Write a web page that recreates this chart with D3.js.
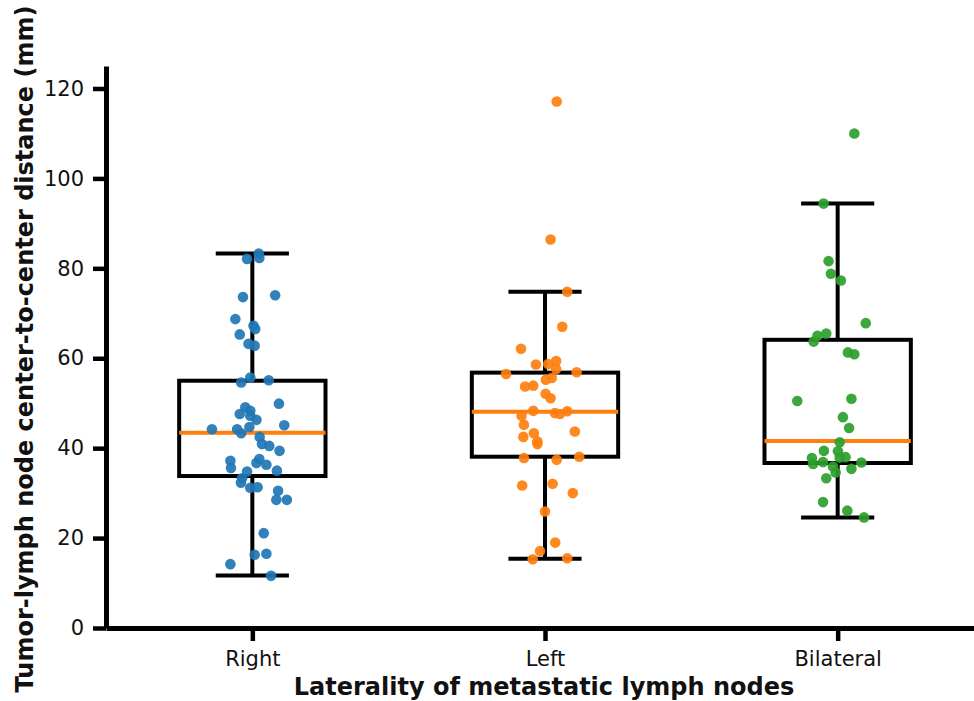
<!DOCTYPE html>
<html>
<head>
<meta charset="utf-8">
<script src="https://cdn.jsdelivr.net/npm/d3@7"></script>
<style>
  body { margin: 0; background: #fff; }
  text { font-family: "DejaVu Sans", sans-serif; }
</style>
</head>
<body>
<div id="chart"></div>
<script>
// categories and colours
var categories = ["Right", "Left", "Bilateral"];
var colors = ["#1f77b4", "#ff7f0e", "#2ca02c"];

var boxRight = [11.7, 33.8, 43.4, 55.0, 83.3];
var boxLeft = [15.4, 38.1, 48.1, 56.8, 74.8];
var boxBilateral = [24.6, 36.7, 41.6, 64.1, 94.4];

// points : [value (mm), jitter (in category units)]
var ptsRight = [
  [83.3, 0.022], [82.1, -0.018], [82.3, 0.024], [73.6, -0.032], [74.0, 0.078],
  [68.7, -0.058], [67.2, 0.004], [66.5, 0.010], [65.3, -0.043], [63.2, -0.013],
  [62.8, 0.008], [55.7, -0.007], [54.6, -0.038], [55.1, 0.056], [49.9, 0.091],
  [49.1, -0.024], [48.3, -0.007], [47.6, -0.043], [47.2, -0.007], [46.3, 0.014],
  [45.1, 0.109], [44.2, -0.138], [44.2, -0.052], [44.7, -0.010], [43.3, -0.038],
  [42.5, 0.025], [40.9, 0.033], [40.5, 0.058], [39.4, 0.093], [37.2, -0.075],
  [35.6, -0.073], [37.6, 0.024], [36.7, 0.014], [36.3, 0.048], [35.0, 0.084],
  [34.8, -0.018], [33.3, -0.035], [32.3, -0.039], [31.2, -0.007], [31.3, 0.018],
  [30.5, 0.088], [28.5, 0.082], [28.5, 0.118], [21.1, 0.039], [16.5, 0.048],
  [16.3, 0.008], [14.2, -0.075], [11.6, 0.064]
];
var ptsLeft = [
  [117.1, 0.040], [86.4, 0.019], [74.8, 0.076], [67.0, 0.059], [62.1, -0.082],
  [58.6, -0.031], [58.7, 0.011], [59.4, 0.038], [57.6, 0.038], [56.5, -0.133],
  [56.9, 0.108], [55.2, 0.003], [55.6, 0.023], [53.7, -0.068], [53.9, -0.040],
  [52.1, 0.002], [51.1, 0.019], [48.3, -0.040], [47.2, -0.080], [47.8, 0.034],
  [47.6, 0.051], [48.2, 0.076], [45.2, -0.072], [43.3, -0.038], [43.7, 0.102],
  [42.5, -0.074], [41.5, -0.026], [40.9, -0.026], [37.8, -0.072], [37.4, 0.040],
  [38.1, 0.117], [31.7, -0.078], [32.1, 0.026], [30.0, 0.095], [25.9, 0.000],
  [19.0, 0.035], [17.1, -0.017], [15.3, -0.042], [15.5, 0.076]
];
var ptsBilateral = [
  [110.0, 0.057], [94.4, -0.048], [81.6, -0.031], [78.8, -0.023], [77.3, 0.011],
  [67.8, 0.096], [65.0, -0.069], [65.5, -0.039], [63.7, -0.082], [61.3, 0.035],
  [60.9, 0.057], [50.5, -0.138], [51.0, 0.047], [46.9, 0.018], [44.5, 0.039],
  [41.3, 0.007], [39.4, -0.047], [39.3, 0.001], [37.8, -0.088], [37.9, 0.007],
  [38.0, 0.027], [36.5, -0.084], [36.9, -0.050], [36.8, 0.081], [35.9, -0.016],
  [35.4, 0.047], [34.6, -0.007], [33.3, -0.039], [28.0, -0.050], [26.1, 0.033],
  [24.6, 0.090]
];
var yTicks = [0, 20, 40, 60, 80, 100, 120];

var boxes = [boxRight, boxLeft, boxBilateral];
var points = [ptsRight, ptsLeft, ptsBilateral];

var width = 974, height = 701;
var margin = {left: 106, top: 66, bottom: 73};

var svg = d3.select("#chart").append("svg")
    .attr("width", width)
    .attr("height", height);

var x = d3.scaleLinear().domain([-0.5, 2.5]).range([margin.left, margin.left + 878]);
var y = d3.scaleLinear().domain([0, 125]).range([height - margin.bottom, margin.top]);

var lw = 4;

// axes
var gy = svg.append("g")
    .attr("transform", "translate(" + margin.left + ",0)")
    .call(d3.axisLeft(y).tickValues(yTicks).tickSize(13).tickSizeOuter(0).tickPadding(9));
var gx = svg.append("g")
    .attr("transform", "translate(0," + y(0) + ")")
    .call(d3.axisBottom(x).tickValues([0, 1, 2])
          .tickFormat(function(d) { return categories[d]; })
          .tickSize(13).tickSizeOuter(0).tickPadding(10));

[gy, gx].forEach(function(g) {
    g.select(".domain").attr("stroke", "#000").attr("stroke-width", 5);
    g.selectAll(".tick line").attr("stroke", "#000").attr("stroke-width", 4.5);
    g.selectAll(".tick text")
	.attr("font-family", "DejaVu Sans")
	.attr("font-size", 21)
	.attr("fill", "#111");
});

// boxes
var bw = 0.25, cw = 0.125;
var bg = svg.append("g");
boxes.forEach(function(b, i) {
    var g = bg.append("g");
    g.append("line")
	.attr("x1", x(i)).attr("x2", x(i))
	.attr("y1", y(b[0])).attr("y2", y(b[1]))
	.attr("stroke", "#000").attr("stroke-width", lw);
    g.append("line")
	.attr("x1", x(i)).attr("x2", x(i))
	.attr("y1", y(b[3])).attr("y2", y(b[4]))
	.attr("stroke", "#000").attr("stroke-width", lw);
    [b[0], b[4]].forEach(function(v) {
	g.append("line")
	    .attr("x1", x(i - cw)).attr("x2", x(i + cw))
	    .attr("y1", y(v)).attr("y2", y(v))
	    .attr("stroke", "#000").attr("stroke-width", lw);
    });
    g.append("rect")
	.attr("x", x(i - bw)).attr("width", x(i + bw) - x(i - bw))
	.attr("y", y(b[3])).attr("height", y(b[1]) - y(b[3]))
	.attr("fill", "none").attr("stroke", "#000").attr("stroke-width", lw);
    g.append("line")
	.attr("x1", x(i - bw)).attr("x2", x(i + bw))
	.attr("y1", y(b[2])).attr("y2", y(b[2]))
	.attr("stroke", "#ff7f0e").attr("stroke-width", lw);
});

// jittered points
points.forEach(function(pts, i) {
    svg.append("g").selectAll("circle")
	.data(pts)
	.enter().append("circle")
	.attr("cx", function(d) { return x(i + d[1]); })
	.attr("cy", function(d) { return y(d[0]); })
	.attr("r", 5.3)
	.attr("fill", colors[i])
	.attr("fill-opacity", 0.92);
});

// labels
svg.append("text")
    .attr("x", 544).attr("y", 695)
    .attr("text-anchor", "middle")
    .attr("font-weight", "bold")
    .attr("font-size", 24)
    .attr("fill", "#111")
    .text("Laterality of metastatic lymph nodes");

svg.append("text")
    .attr("transform", "translate(33,349) rotate(-90)")
    .attr("text-anchor", "middle")
    .attr("font-weight", "bold")
    .attr("font-size", 24)
    .attr("fill", "#111")
    .text("Tumor-lymph node center-to-center distance (mm)");
</script>
</body>
</html>
